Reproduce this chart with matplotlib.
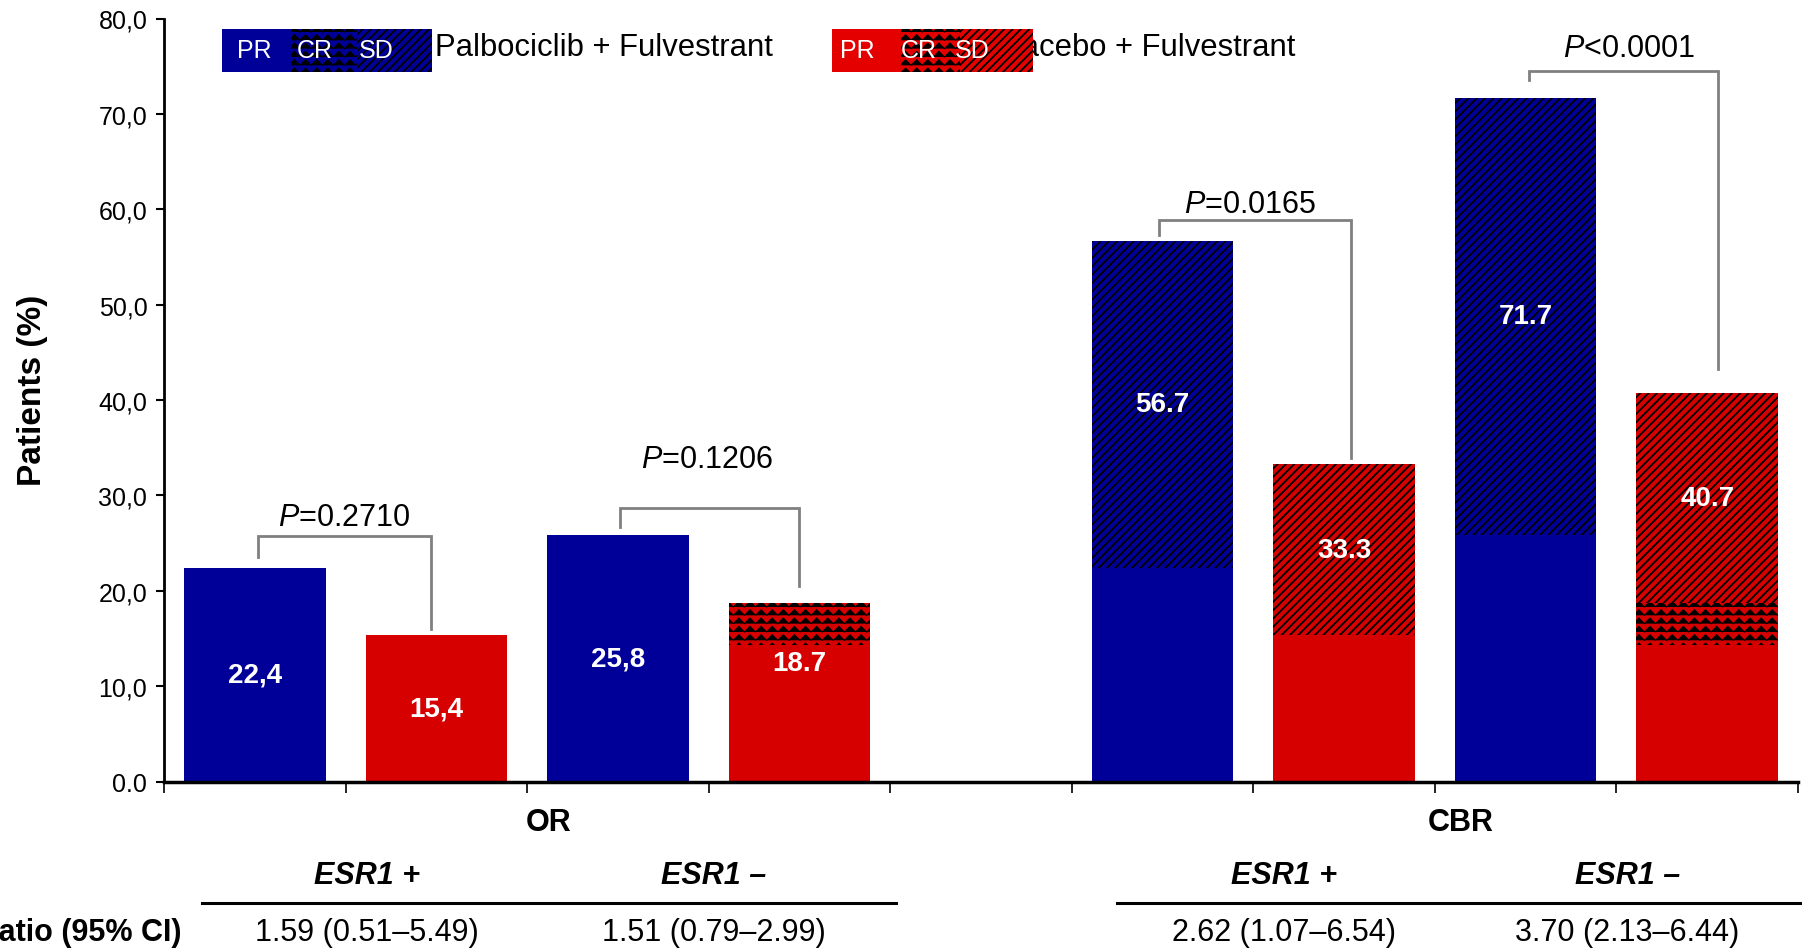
import warnings
import numpy as np
import matplotlib
matplotlib.use('Agg')
import matplotlib.pyplot as plt
import matplotlib.hatch as mhatch
from matplotlib.path import Path
from matplotlib.patches import Rectangle

warnings.filterwarnings('ignore')

# bar slots 0-8, slot 4 is the empty gap between OR and CBR
bar_pos = [0, 1, 2, 3, 5, 6, 7, 8]
arm = ['palbo', 'placebo', 'palbo', 'placebo', 'palbo', 'placebo', 'palbo', 'placebo']
pr = [22.4, 15.4, 25.8, 14.3, 22.4, 15.4, 25.8, 14.3]
cr = [0, 0, 0, 4.4, 0, 0, 0, 4.4]
sd = [0, 0, 0, 0, 34.3, 17.9, 45.9, 22.0]
bar_text = ['22,4', '15,4', '25,8', '18.7', '56.7', '33.3', '71.7', '40.7']
bar_text_y = [11.2, 7.7, 12.9, 12.4, 39.6, 24.3, 48.8, 29.7]

# p-value brackets
p_text = ['$P$=0.2710', '$P$=0.1206', '$P$=0.0165', '$P$<0.0001']
p_text_x = [0.49, 2.49, 5.48, 7.57]
p_text_y = [27.7, 33.8, 60.5, 76.9]
br_left = [0.02, 2.01, 4.98, 7.02]
br_right = [0.97, 3.0, 6.04, 8.06]
br_top = [25.7, 28.7, 58.9, 74.5]
br_left_end = [23.5, 26.7, 57.3, 73.6]
br_right_end = [16.0, 20.5, 33.9, 43.3]

yticks = [0, 10, 20, 30, 40, 50, 60, 70, 80]
ytick_labels = ['0.0', '10,0', '20,0', '30,0', '40,0', '50,0', '60,0', '70,0', '80,0']

groups = ['OR', 'CBR']
group_x = [1.62, 6.64]
sub_labels = ['ESR1 +', 'ESR1 \u2013', 'ESR1 +', 'ESR1 \u2013']
sub_x = [0.62, 2.53, 5.67, 7.56]
odds = ['1.59 (0.51\u20135.49)', '1.51 (0.79\u20132.99)',
        '2.62 (1.07\u20136.54)', '3.70 (2.13\u20136.44)']
rule_x = [(-0.29, 3.53), (4.75, 8.6)]

colors = {'palbo': '#000099', 'placebo': '#D60000'}
legend_colors = {'palbo': '#000099', 'placebo': '#E50000'}
SD_HATCH = '////'
CR_HATCH = '~~'


class WavyHatch(mhatch.HatchPatternBase):
    """zig-zag rows, used for the CR segments"""
    def __init__(self, hatch, density):
        self.num_rows = int(hatch.count('~') * density)
        self.teeth = 9
        self.num_vertices = self.num_rows * (2 * self.teeth + 1)

    def set_vertices_and_codes(self, vertices, codes):
        n = 2 * self.teeth + 1
        xs = np.linspace(0, 1, n)
        amp = np.where(np.arange(n) % 2 == 0, -0.028, 0.028)
        for i in range(self.num_rows):
            y0 = (i + 0.5) / self.num_rows
            vertices[i * n:(i + 1) * n, 0] = xs
            vertices[i * n:(i + 1) * n, 1] = y0 + amp
            codes[i * n] = Path.MOVETO
            codes[i * n + 1:(i + 1) * n] = Path.LINETO


mhatch._hatch_types.append(WavyHatch)

plt.rcParams['font.family'] = ['Liberation Sans', 'DejaVu Sans']
plt.rcParams['mathtext.fontset'] = 'custom'
plt.rcParams['mathtext.rm'] = 'Liberation Sans'
plt.rcParams['mathtext.it'] = 'Liberation Sans:italic'
plt.rcParams['hatch.linewidth'] = 1.3


def set_hlw(patches, lw):
    for p in patches:
        if hasattr(p, 'set_hatch_linewidth'):
            p.set_hatch_linewidth(lw)


fig = plt.figure(figsize=(18.02, 9.53), dpi=100)
ax = fig.add_axes([164 / 1802, 170.5 / 953, 1634 / 1802, 763 / 953])

bar_colors = [colors[a] for a in arm]
width = 0.78
pr_bottom = np.zeros(len(pr))
cr_bottom = np.array(pr)
sd_bottom = np.array(pr) + np.array(cr)

ax.bar(bar_pos, pr, width, bottom=pr_bottom, color=bar_colors, linewidth=0, zorder=2)
b = ax.bar(bar_pos, cr, width, bottom=cr_bottom, color=bar_colors, edgecolor='black',
           linewidth=0, hatch=CR_HATCH, zorder=2)
set_hlw(b, 0.75)
b = ax.bar(bar_pos, sd, width, bottom=sd_bottom, color=bar_colors, edgecolor='black',
           linewidth=0, hatch=SD_HATCH, zorder=2)
set_hlw(b, 1.3)

for x, y, t in zip(bar_pos, bar_text_y, bar_text):
    ax.text(x, y, t, color='white', fontsize=20, fontweight='bold',
            ha='center', va='center', zorder=4)

# brackets
for i in range(len(p_text)):
    ax.plot([br_left[i], br_left[i], br_right[i], br_right[i]],
            [br_left_end[i], br_top[i], br_top[i], br_right_end[i]],
            color='#808080', lw=2, solid_joinstyle='miter', zorder=3)
    ax.text(p_text_x[i], p_text_y[i], p_text[i], fontsize=22,
            ha='center', va='center')

ax.set_xlim(-0.5, 8.5)
ax.set_ylim(0, 80)
ax.set_xticks(np.arange(-0.5, 9, 1))
ax.set_xticklabels([])
ax.set_yticks(yticks)
ax.set_yticklabels(ytick_labels)
ax.tick_params(axis='y', labelsize=18, length=6, width=1.5, pad=6)
ax.tick_params(axis='x', length=8, width=1.2)
for s in ['top', 'right']:
    ax.spines[s].set_visible(False)
ax.spines['left'].set_linewidth(2)
ax.spines['bottom'].set_linewidth(2.5)

fig.text(0.018, 0.59, 'Patients (%)', rotation=90, fontsize=24, fontweight='bold',
         ha='center', va='center')

# table below the axis
tr = ax.get_xaxis_transform()
for x, g in zip(group_x, groups):
    ax.text(x, -0.053, g, transform=tr, fontsize=22, fontweight='bold',
            ha='center', va='center')
for x, s in zip(sub_x, sub_labels):
    ax.text(x, -0.1225, s, transform=tr, fontsize=22, fontweight='bold',
            fontstyle='italic', ha='center', va='center')
for x0, x1 in rule_x:
    ax.plot([x0, x1], [-0.159, -0.159], transform=tr, color='black', lw=2.2,
            clip_on=False)
for x, o in zip(sub_x, odds):
    ax.text(x, -0.197, o, transform=tr, fontsize=22, ha='center', va='center')
fig.text(182 / 1802, 1 - 933 / 953, 'Odds ratio (95% CI)', fontsize=22,
         fontweight='bold', ha='right', va='center')

# hand-made legend with labels inside the boxes
def legend_box(x_edges, color, label_x):
    y0 = 1 - 73 / 953
    h = 43 / 953
    hatches = [None, CR_HATCH, SD_HATCH]
    for k in range(3):
        r = Rectangle((x_edges[k] / 1802, y0), (x_edges[k + 1] - x_edges[k]) / 1802, h,
                      transform=fig.transFigure, facecolor=color, edgecolor='black',
                      linewidth=0, hatch=hatches[k], zorder=5)
        if k == 1:
            set_hlw([r], 0.75)
        fig.add_artist(r)
    for lx, t in zip(label_x, ['PR', 'CR', 'SD']):
        fig.text(lx / 1802, y0 + h / 2, t, color='white', fontsize=18,
                 ha='center', va='center', zorder=6)


fig.text(435 / 1802, 1 - 48 / 953, 'Palbociclib + Fulvestrant', fontsize=22.3,
         ha='left', va='center', zorder=3)
fig.text(1295 / 1802, 1 - 48 / 953, 'Placebo + Fulvestrant', fontsize=22.3,
         ha='right', va='center', zorder=3)
legend_box([222, 291, 357, 432], legend_colors['palbo'], [254, 315, 376])
legend_box([832, 901, 960, 1033], legend_colors['placebo'], [857, 919, 972])

fig.savefig('out.png', dpi=100)
